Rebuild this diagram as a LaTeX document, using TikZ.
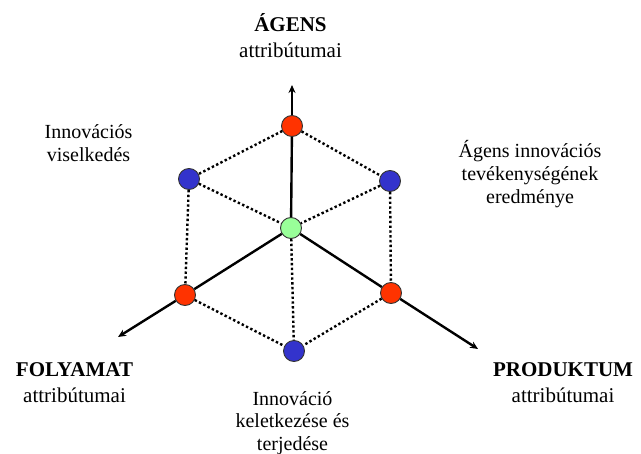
\documentclass[tikz,border=0pt]{standalone}
\usepackage{fontspec}
\setmainfont{Liberation Serif}
\usetikzlibrary{arrows.meta}
\definecolor{vred}{HTML}{FF3300}
\definecolor{vblue}{HTML}{3333CC}
\definecolor{vgreen}{HTML}{99FF99}
\begin{document}
\begin{tikzpicture}[x=1bp,y=-1bp,
  vertex/.style={circle,draw=black!80,line width=0.9bp,minimum size=21bp,inner sep=0pt},
  axis/.style={line width=2.4bp},
  axisarrow/.style={axis,-{Stealth[length=8bp,width=7bp]}},
  hidden/.style={line width=2.4bp,dash pattern=on 2.4bp off 2.4bp},
  axislabel/.style={font=\fontsize{21bp}{25.5bp}\selectfont,align=center,inner sep=0pt},
  label/.style={font=\fontsize{20bp}{22.8bp}\selectfont,align=center,inner sep=0pt}]
\useasboundingbox (0,0) rectangle (641,454);

% axis end points
\coordinate (tipA) at (292,85);
\coordinate (tipF) at (118,337);
\coordinate (tipP) at (478,349);

% cube vertices
\node[vertex,fill=vgreen] (c)  at (291,228) {};
\node[vertex,fill=vred]   (a)  at (292,126) {};
\node[vertex,fill=vred]   (f)  at (185,295) {};
\node[vertex,fill=vred]   (p)  at (391,293) {};
\node[vertex,fill=vblue]  (af) at (189,179) {};
\node[vertex,fill=vblue]  (ap) at (390,181) {};
\node[vertex,fill=vblue]  (fp) at (294,351) {};

% hidden edges of the cube
\draw[hidden] (a) -- (af);
\draw[hidden] (a) -- (ap);
\draw[hidden] (af) -- (c);
\draw[hidden] (ap) -- (c);
\draw[hidden] (af) -- (f);
\draw[hidden] (ap) -- (p);
\draw[hidden] (f) -- (fp);
\draw[hidden] (p) -- (fp);
\draw[hidden] (c) -- (fp);

% the three axes
\draw[axis] (c) -- (a);
\draw[axisarrow] (a) -- (tipA);
\draw[axis] (c) -- (f);
\draw[axisarrow] (f) -- (tipF);
\draw[axis] (c) -- (p);
\draw[axisarrow] (p) -- (tipP);

% labels
\node[axislabel] (lA) at (290.5,35.5) {\textbf{ÁGENS}\\attribútumai};
\node[axislabel] (lF) at (74.5,382.5) {\textbf{FOLYAMAT}\\attribútumai};
\node[axislabel] (lP) at (563,382.5) {\textbf{PRODUKTUM}\\attribútumai};
\node[label] (lAF) at (88.5,143.5) {Innovációs\\viselkedés};
\node[label] (lAP) at (530,174) {Ágens innovációs\\tevékenységének\\eredménye};
\node[label] (lFP) at (292.5,423) {Innováció\\keletkezése és\\terjedése};
\end{tikzpicture}
\end{document}
